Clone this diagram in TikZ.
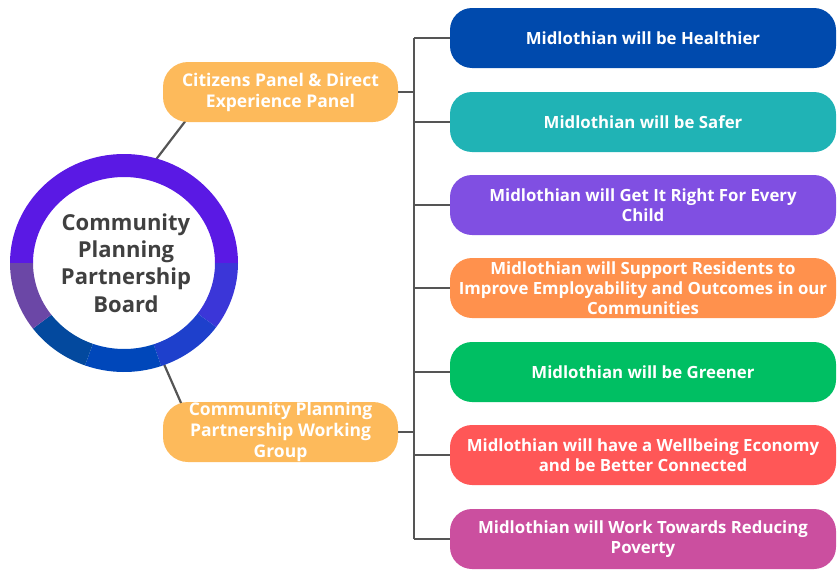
\documentclass[tikz,border=0pt]{standalone}
\usepackage{fontspec}
\setmainfont{Open Sans}
\usetikzlibrary{calc}

\definecolor{ringTop}{HTML}{5A19E4}
\definecolor{ringA}{HTML}{3B36D8}
\definecolor{ringB}{HTML}{1E40CC}
\definecolor{ringC}{HTML}{0047BA}
\definecolor{ringD}{HTML}{03499E}
\definecolor{ringE}{HTML}{6B47A6}
\definecolor{boardText}{HTML}{404040}
\definecolor{panelOrange}{HTML}{FDBA5B}
\definecolor{treeGray}{HTML}{555555}
\definecolor{healthBlue}{HTML}{004AAD}
\definecolor{saferTeal}{HTML}{20B3B5}
\definecolor{childPurple}{HTML}{804FE2}
\definecolor{employOrange}{HTML}{FF914D}
\definecolor{greenerGreen}{HTML}{00BF63}
\definecolor{economyRed}{HTML}{FF5757}
\definecolor{povertyPink}{HTML}{CB4F9F}

\tikzset{
    panelbox/.style={rectangle, rounded corners=25pt, fill=panelOrange,
        minimum width=235pt, minimum height=60pt, text=white, align=center,
        font=\fontsize{17.5}{21}\selectfont\bfseries, inner sep=0pt},
    goalbox/.style={rectangle, rounded corners=22pt,
        minimum width=386pt, minimum height=60pt, text=white, align=center,
        font=\fontsize{16.8}{20}\selectfont\bfseries, inner sep=0pt},
    tree/.style={draw=treeGray, line width=2.4pt},
}

\begin{document}
\begin{tikzpicture}[x=1pt, y=-1pt]
    \useasboundingbox (0,0) rectangle (837,570);

    \coordinate (ctr) at (124,263);
    \coordinate (trunk) at (414,0);

    % links from the board ring to the two panels
    \coordinate (up-start) at (148,170);
    \coordinate (up-end) at (190,115);
    \coordinate (down-start) at (160,355);
    \coordinate (down-end) at (185,412);
    \draw[tree, line width=2.2pt] (up-start) edge (up-end);
    \draw[tree, line width=2.2pt] (down-start) edge (down-end);

    % ring segments
    \foreach \a/\b/\c in {180/360/ringTop, 0/36/ringA, 36/71/ringB,
                          71/110/ringC, 110/143/ringD, 143/180/ringE}{
        \fill[\c] ($(ctr)+(\a:114 and 109)$)
            arc[start angle=\a, end angle=\b, x radius=114, y radius=109]
            -- ($(ctr)+(\b:91 and 86)$)
            arc[start angle=\b, end angle=\a, x radius=91, y radius=86]
            -- cycle;
    }
    \node[text=boardText, align=center,
          font=\fontsize{22}{27.4}\selectfont\bfseries] (board) at (126,263)
          {Community\\Planning\\Partnership\\Board};

    % panels
    \node[panelbox] (citizens) at (280.5,92) {Citizens Panel \& Direct\\Experience Panel};
    \node[panelbox] (working) at (280.5,432) {Community Planning\\Partnership Working\\Group};

    % outcomes
    \node[goalbox, fill=healthBlue] (healthier) at (643,38) {Midlothian will be Healthier};
    \node[goalbox, fill=saferTeal] (safer) at (643,122) {Midlothian will be Safer};
    \node[goalbox, fill=childPurple] (child) at (643,205) {Midlothian will Get It Right For Every\\Child};
    \node[goalbox, fill=employOrange] (employ) at (643,288) {Midlothian will Support Residents to\\Improve Employability and Outcomes in our\\Communities};
    \node[goalbox, fill=greenerGreen] (greener) at (643,372) {Midlothian will be Greener};
    \node[goalbox, fill=economyRed] (economy) at (643,455) {Midlothian will have a Wellbeing Economy\\and be Better Connected};
    \node[goalbox, fill=povertyPink] (poverty) at (643,539) {Midlothian will Work Towards Reducing\\Poverty};

    % tree
    \draw[tree] (healthier.west -| trunk) edge (poverty.west -| trunk);
    \draw[tree] (citizens.east) edge (citizens.east -| trunk);
    \draw[tree] (working.east) edge (working.east -| trunk);

    \draw[tree] (healthier.west -| trunk) edge (healthier.west);
    \draw[tree] (safer.west -| trunk) edge (safer.west);
    \draw[tree] (child.west -| trunk) edge (child.west);
    \draw[tree] (employ.west -| trunk) edge (employ.west);
    \draw[tree] (greener.west -| trunk) edge (greener.west);
    \draw[tree] (economy.west -| trunk) edge (economy.west);
    \draw[tree] (poverty.west -| trunk) edge (poverty.west);
\end{tikzpicture}
\end{document}
